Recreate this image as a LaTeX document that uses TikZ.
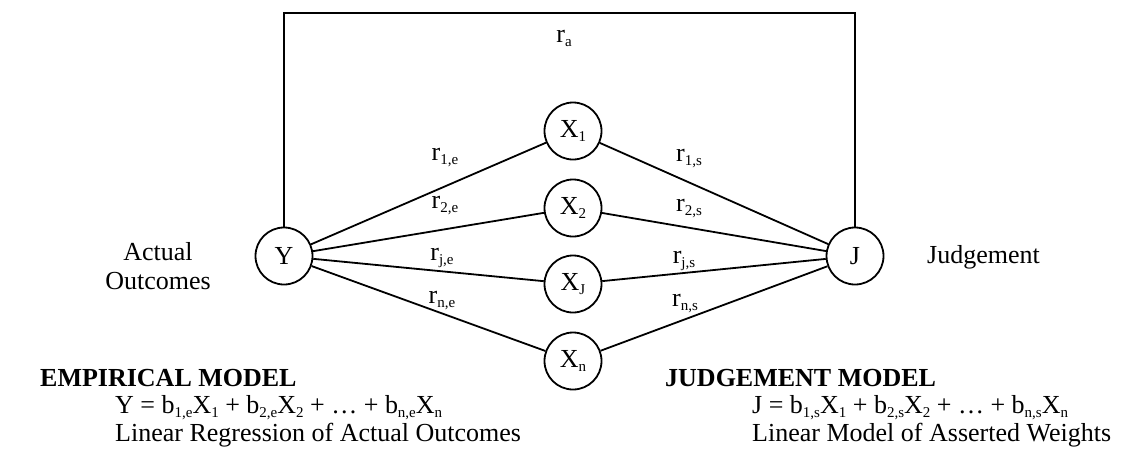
\documentclass[tikz,border=0pt]{standalone}
\usepackage{fontspec}
\setmainfont{Liberation Serif}
\newcommand\sbs[1]{\raisebox{-4pt}{\fontsize{15}{15}\selectfont #1}}
\begin{document}
\begin{tikzpicture}[x=1pt,y=-1pt,
  font=\fontsize{26}{29}\selectfont,
  var/.style={circle,draw,line width=1.8pt,minimum size=57pt,inner sep=0pt},
  lab/.style={inner sep=0pt},
  txt/.style={inner sep=0pt,anchor=base west},
  conn/.style={line width=1.8pt}]
\useasboundingbox (0,0) rectangle (1142,459);
\node[var] (Y) at (284,256) {Y};
\node[var] (J) at (855,256) {J};
\node[var] (X1) at (573,131) {X\sbs{1}};
\node[var] (X2) at (573,208) {X\sbs{2}};
\node[var] (Xj) at (573,284) {X\sbs{J}};
\node[var] (Xn) at (573,361) {X\sbs{n}};
\coordinate (top) at (569,13);
\draw[conn] (Y) -- (Y |- top) -- (J |- top) -- (J);
\foreach \x in {X1,X2,Xj,Xn} {\draw[conn] (Y) -- (\x); \draw[conn] (\x) -- (J);}
\node[lab] (ra) at (564,38) {r\sbs{a}};
\node[lab] (r1e) at (445,158) {r\sbs{1,e}};
\node[lab] (r2e) at (445,206) {r\sbs{2,e}};
\node[lab] (rje) at (442,258) {r\sbs{j,e}};
\node[lab] (rne) at (442,301) {r\sbs{n,e}};
\node[lab] (r1s) at (689,159) {r\sbs{1,s}};
\node[lab] (r2s) at (689,209) {r\sbs{2,s}};
\node[lab] (rjs) at (684,261) {r\sbs{j,s}};
\node[lab] (rns) at (685,304) {r\sbs{n,s}};
\node[lab,align=center] (act) at (158,266) {Actual\\Outcomes};
\node[txt] (judg) at (927,263) {Judgement};
\node[txt] (em) at (40,386) {\textbf{EMPIRICAL MODEL}};
\node[txt] (emf) at (115,413) {Y = b\sbs{1,e}X\sbs{1} + b\sbs{2,e}X\sbs{2} + … + b\sbs{n,e}X\sbs{n}};
\node[txt] (eml) at (115,441) {Linear Regression of Actual Outcomes};
\node[txt] (jm) at (665,386) {\textbf{JUDGEMENT MODEL}};
\node[txt] (jmf) at (752,413) {J = b\sbs{1,s}X\sbs{1} + b\sbs{2,s}X\sbs{2} + … + b\sbs{n,s}X\sbs{n}};
\node[txt] (jml) at (752,441) {Linear Model of Asserted Weights};
\end{tikzpicture}
\end{document}
